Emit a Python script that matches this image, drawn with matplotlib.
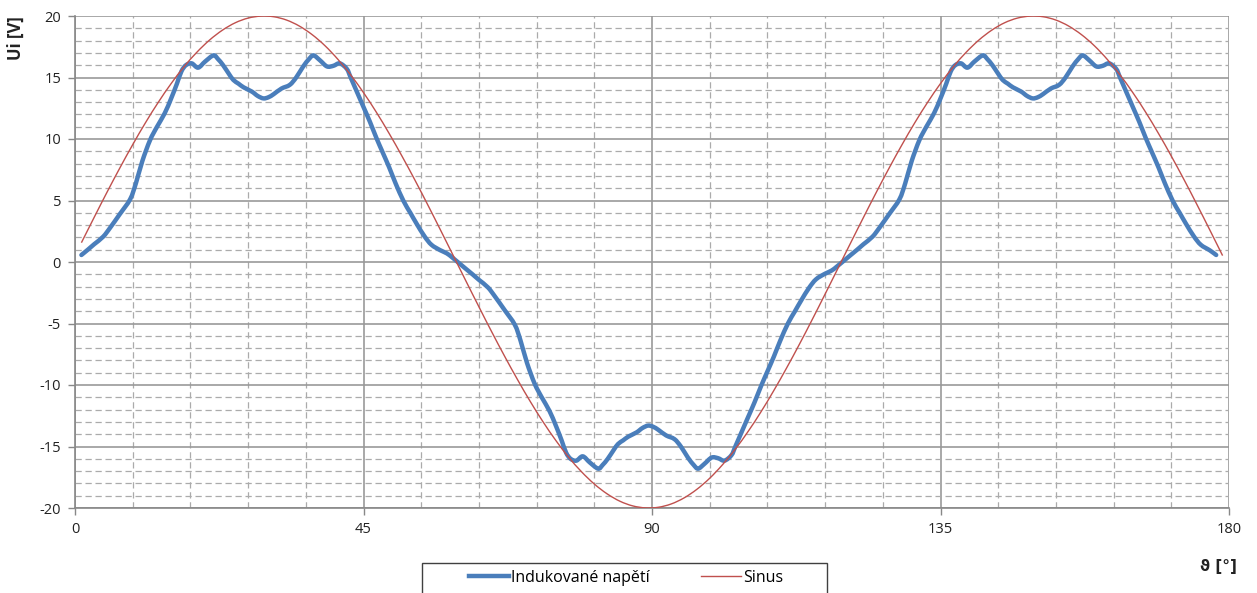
import matplotlib
matplotlib.use("Agg")
import matplotlib.pyplot as plt
from matplotlib.ticker import MultipleLocator
from matplotlib.path import Path
from matplotlib.patches import PathPatch, Rectangle
from matplotlib.lines import Line2D

# ---- data ----
theta_ui = [1.0, 2.0, 3.0, 4.4, 5.5, 7.0, 8.6, 9.5, 10.5, 11.7, 12.8, 14.0, 15.0, 15.9, 16.6,
            17.3, 18.2, 19.2, 20.3, 21.6, 22.3, 23.1, 24.0, 24.7, 25.5, 26.3, 27.6, 28.5, 29.4,
            30.2, 31.0, 32.2, 33.5, 34.5, 35.6, 36.5, 37.2, 38.2, 39.3, 40.3, 41.3, 42.4, 43.0,
            44.0, 45.0, 46.0, 47.0, 48.0, 49.0, 50.0, 51.2, 52.3, 53.3, 54.5, 55.6, 57.0, 58.0,
            59.0,
            61.0, 62.0, 63.0, 64.4, 65.5, 67.0, 68.6, 69.5, 70.5, 71.7, 72.8, 74.0, 75.0, 75.9,
            76.6, 77.3, 78.2, 79.2, 80.3, 81.6, 82.3, 83.1, 84.0, 84.7, 85.5, 86.3, 87.6, 88.5,
            89.4, 90.2, 91.0, 92.2, 93.5, 94.5, 95.6, 96.5, 97.2, 98.2, 99.3, 100.3, 101.3,
            102.4, 103.0, 104.0, 105.0, 106.0, 107.0, 108.0, 109.0, 110.0, 111.2, 112.3, 113.3,
            114.5, 115.6, 117.0, 118.0, 119.0,
            121.0, 122.0, 123.0, 124.4, 125.5, 127.0, 128.6, 129.5, 130.5, 131.7, 132.8, 134.0,
            135.0, 135.9, 136.6, 137.3, 138.2, 139.2, 140.3, 141.6, 142.3, 143.1, 144.0, 144.7,
            145.5, 146.3, 147.6, 148.5, 149.4, 150.2, 151.0, 152.2, 153.5, 154.5, 155.6, 156.5,
            157.2, 158.2, 159.3, 160.3, 161.3, 162.4, 163.0, 164.0, 165.0, 166.0, 167.0, 168.0,
            169.0, 170.0, 171.2, 172.3, 173.3, 174.5, 175.6, 177.0, 178.0]
ui_values = [0.57, 1.0, 1.45, 2.06, 2.8, 3.9, 5.1, 6.4, 8.2, 9.9, 11.0, 12.1, 13.3, 14.5, 15.5,
             16.0, 16.15, 15.8, 16.3, 16.8, 16.5, 16.0, 15.3, 14.8, 14.5, 14.2, 13.85, 13.5, 13.3,
             13.4, 13.65, 14.1, 14.4, 15.0, 15.9, 16.5, 16.8, 16.4, 15.9, 15.95, 16.15, 15.7, 15.0,
             13.8, 12.6, 11.4, 10.1, 8.9, 7.7, 6.4, 5.0, 4.0, 3.1, 2.1, 1.4, 0.95, 0.7,
             0.3,
             -0.57, -1.0, -1.45, -2.06, -2.8, -3.9, -5.1, -6.4, -8.2, -9.9, -11.0, -12.1, -13.3, -14.5,
             -15.5, -16.0, -16.15, -15.8, -16.3, -16.8, -16.5, -16.0, -15.3, -14.8, -14.5, -14.2, -13.85, -13.5,
             -13.3, -13.4, -13.65, -14.1, -14.4, -15.0, -15.9, -16.5, -16.8, -16.4, -15.9, -15.95, -16.15,
             -15.7, -15.0, -13.8, -12.6, -11.4, -10.1, -8.9, -7.7, -6.4, -5.0, -4.0, -3.1,
             -2.1, -1.4, -0.95, -0.7, -0.3,
             0.57, 1.0, 1.45, 2.06, 2.8, 3.9, 5.1, 6.4, 8.2, 9.9, 11.0, 12.1,
             13.3, 14.5, 15.5, 16.0, 16.15, 15.8, 16.3, 16.8, 16.5, 16.0, 15.3, 14.8,
             14.5, 14.2, 13.85, 13.5, 13.3, 13.4, 13.65, 14.1, 14.4, 15.0, 15.9, 16.5,
             16.8, 16.4, 15.9, 15.95, 16.15, 15.7, 15.0, 13.8, 12.6, 11.4, 10.1, 8.9,
             7.7, 6.4, 5.0, 4.0, 3.1, 2.1, 1.4, 0.95, 0.57]

theta_sin = [1, 3, 5, 7, 9, 11, 13, 15, 17, 19, 21, 23, 25, 27, 29, 31, 33, 35, 37, 39,
             41, 43, 45, 47, 49, 51, 53, 55, 57, 59,
             61, 63, 65, 67, 69, 71, 73, 75, 77, 79, 81, 83, 85, 87, 89, 91, 93, 95, 97, 99,
             101, 103, 105, 107, 109, 111, 113, 115, 117, 119,
             121, 123, 125, 127, 129, 131, 133, 135, 137, 139, 141, 143, 145, 147, 149, 151,
             153, 155, 157, 159, 161, 163, 165, 167, 169, 171, 173, 175, 177, 179]
sin_values = [1.57, 3.64, 5.68, 7.65, 9.54, 11.33, 12.99, 14.51, 15.87, 17.05, 18.05, 18.85,
              19.45, 19.83, 19.99, 19.94, 19.67, 19.18, 18.48, 17.58, 16.48, 15.21, 13.77,
              12.18, 10.45, 8.61, 6.68, 4.67, 2.61, 0.52,
              -1.57, -3.64, -5.68, -7.65, -9.54, -11.33, -12.99, -14.51, -15.87, -17.05, -18.05, -18.85,
              -19.45, -19.83, -19.99, -19.94, -19.67, -19.18, -18.48, -17.58, -16.48, -15.21, -13.77,
              -12.18, -10.45, -8.61, -6.68, -4.67, -2.61, -0.52,
              1.57, 3.64, 5.68, 7.65, 9.54, 11.33, 12.99, 14.51, 15.87, 17.05, 18.05, 18.85,
              19.45, 19.83, 19.99, 19.94, 19.67, 19.18, 18.48, 17.58, 16.48, 15.21, 13.77,
              12.18, 10.45, 8.61, 6.68, 4.67, 2.61, 0.52]

x_ticks = [0, 45, 90, 135, 180]
y_ticks = [-20, -15, -10, -5, 0, 5, 10, 15, 20]
series_names = ["Indukované napětí", "Sinus"]

plt.rcParams['font.family'] = ['Open Sans', 'DejaVu Sans']
plt.rcParams['axes.unicode_minus'] = False


def smooth_path(xs, ys):
    """Excel-style smoothed line: Catmull-Rom segments drawn as cubic Beziers."""
    n = len(xs)
    verts = [(xs[0], ys[0])]
    codes = [Path.MOVETO]
    for i in range(n - 1):
        x0, y0 = (xs[i - 1], ys[i - 1]) if i > 0 else (xs[i], ys[i])
        x1, y1 = xs[i], ys[i]
        x2, y2 = xs[i + 1], ys[i + 1]
        x3, y3 = (xs[i + 2], ys[i + 2]) if i + 2 < n else (x2, y2)
        c1 = (x1 + (x2 - x0) / 6.0, y1 + (y2 - y0) / 6.0)
        c2 = (x2 - (x3 - x1) / 6.0, y2 - (y3 - y1) / 6.0)
        verts += [c1, c2, (x2, y2)]
        codes += [Path.CURVE4] * 3
    return Path(verts, codes)


W, H = 1257, 593
fig = plt.figure(figsize=(W / 100, H / 100), dpi=100)
ax = fig.add_axes([75 / W, 1 - 508 / H, (1229 - 75) / W, (508 - 16) / H])

ax.set_xlim(0, 180)
ax.set_ylim(-20, 20)
ax.set_xticks(x_ticks)
ax.set_yticks(y_ticks)
ax.xaxis.set_minor_locator(MultipleLocator(9))
ax.yaxis.set_minor_locator(MultipleLocator(1))
ax.grid(True, which='major', color='#999999', linewidth=1.2, linestyle='-')
ax.grid(True, which='minor', color='#ababab', linewidth=0.9, linestyle=(0, (5, 3)))
ax.set_axisbelow(True)
ax.tick_params(which='minor', length=0)
ax.tick_params(which='major', length=5, color='#888888', width=1.0,
               labelsize=10.5, labelcolor='#222222')
ax.tick_params(axis='x', pad=5)
ax.tick_params(axis='y', pad=5)
for s in ['top', 'right']:
    ax.spines[s].set_visible(False)
for s in ['left', 'bottom']:
    ax.spines[s].set_color('#888888')
    ax.spines[s].set_linewidth(1.2)

blue = '#4a7ebb'
red = '#c0504d'
ax.add_patch(PathPatch(smooth_path(theta_ui, ui_values), fill=False, edgecolor=blue,
                       linewidth=3.2, capstyle='round', joinstyle='round', zorder=3))
ax.add_patch(PathPatch(smooth_path(theta_sin, sin_values), fill=False, edgecolor=red,
                       linewidth=1.0, zorder=4))

fig.text(16 / W, 1 - 16 / H, 'Ui [V]', rotation=90, ha='center', va='top',
         fontsize=12, fontweight='bold', color='#222222')
fig.text(1237 / W, 1 - 566 / H, 'ϑ [°]', ha='right', va='center',
         fontsize=11, fontweight='bold', color='#222222',
         family=['DejaVu Sans'])

# legend box (Excel-style, extends past the bottom edge)
fig.patches.append(Rectangle((422 / W, -0.05), (827 - 422) / W, (0.05 + 1 - 563 / H),
                             transform=fig.transFigure, fill=False,
                             edgecolor='#404040', linewidth=1.0))
handles = [Line2D([], [], color=blue, linewidth=3.2), Line2D([], [], color=red, linewidth=1.0)]
leg = fig.legend(handles=handles, labels=series_names, loc='center',
                 bbox_to_anchor=(626 / W, 1 - 578 / H), ncol=2,
                 frameon=False, fontsize=11.5,
                 handlelength=2.5, columnspacing=3.2, handletextpad=0.15,
                 borderpad=0.0)

fig.savefig('out.png', dpi=100)
